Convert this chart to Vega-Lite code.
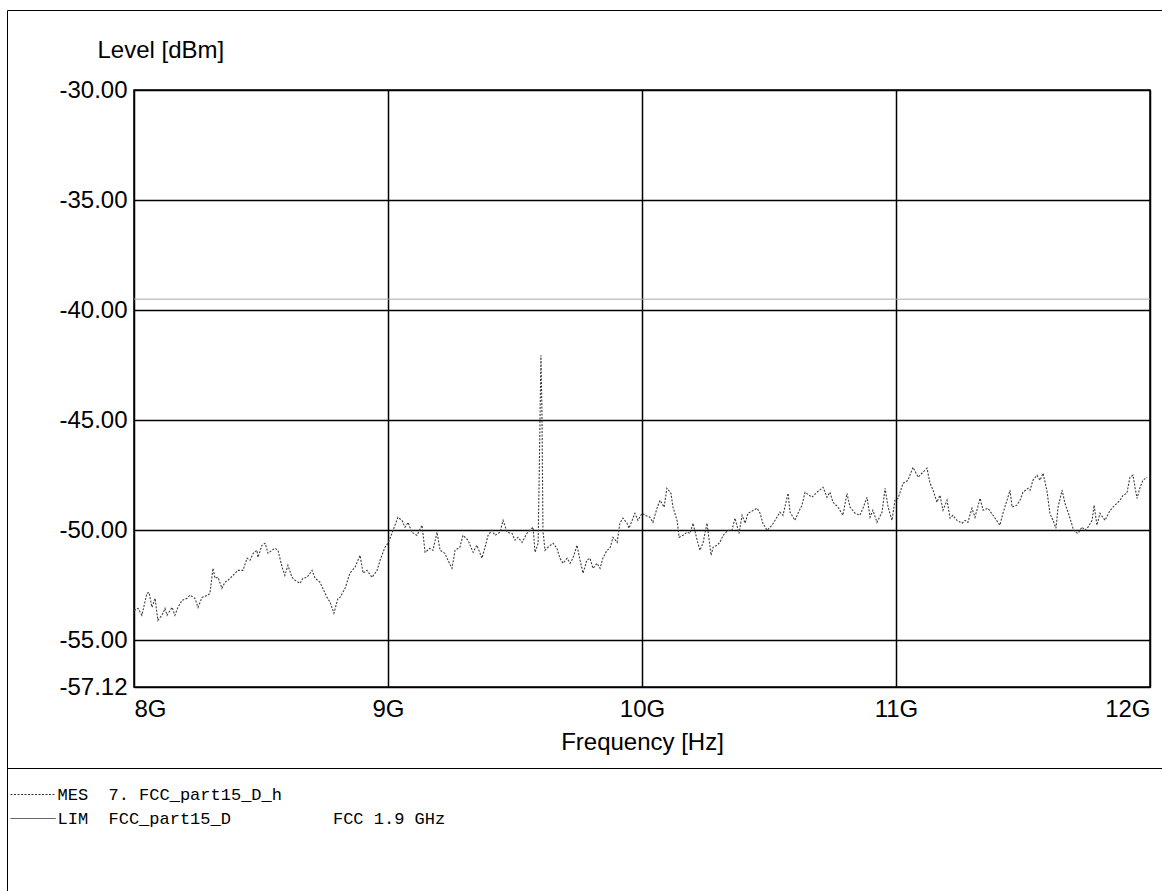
{
  "$schema": "https://vega.github.io/schema/vega-lite/v6.json",
  "width": 1016,
  "height": 597,
  "autosize": {"type": "none"},
  "padding": {"left": 134, "top": 90, "right": 12, "bottom": 204},
  "background": "white",
  "config": {
    "view": {"stroke": "black", "strokeWidth": 1.5},
    "font": "Liberation Sans"
  },
  "data": {
    "values": [
      {"f": 8.000, "L": -53.64, "s": "MES"},
      {"f": 8.016, "L": -53.55, "s": "MES"},
      {"f": 8.031, "L": -53.86, "s": "MES"},
      {"f": 8.051, "L": -52.86, "s": "MES"},
      {"f": 8.059, "L": -52.82, "s": "MES"},
      {"f": 8.071, "L": -53.50, "s": "MES"},
      {"f": 8.083, "L": -53.09, "s": "MES"},
      {"f": 8.094, "L": -54.09, "s": "MES"},
      {"f": 8.110, "L": -53.86, "s": "MES"},
      {"f": 8.122, "L": -53.55, "s": "MES"},
      {"f": 8.130, "L": -53.86, "s": "MES"},
      {"f": 8.150, "L": -53.50, "s": "MES"},
      {"f": 8.161, "L": -53.86, "s": "MES"},
      {"f": 8.173, "L": -53.50, "s": "MES"},
      {"f": 8.189, "L": -53.18, "s": "MES"},
      {"f": 8.209, "L": -53.09, "s": "MES"},
      {"f": 8.220, "L": -52.95, "s": "MES"},
      {"f": 8.240, "L": -53.09, "s": "MES"},
      {"f": 8.252, "L": -53.50, "s": "MES"},
      {"f": 8.268, "L": -53.05, "s": "MES"},
      {"f": 8.291, "L": -52.95, "s": "MES"},
      {"f": 8.299, "L": -52.86, "s": "MES"},
      {"f": 8.311, "L": -51.73, "s": "MES"},
      {"f": 8.319, "L": -52.18, "s": "MES"},
      {"f": 8.331, "L": -52.14, "s": "MES"},
      {"f": 8.346, "L": -52.64, "s": "MES"},
      {"f": 8.358, "L": -52.36, "s": "MES"},
      {"f": 8.370, "L": -52.27, "s": "MES"},
      {"f": 8.390, "L": -52.05, "s": "MES"},
      {"f": 8.409, "L": -51.82, "s": "MES"},
      {"f": 8.429, "L": -51.82, "s": "MES"},
      {"f": 8.445, "L": -51.27, "s": "MES"},
      {"f": 8.457, "L": -51.36, "s": "MES"},
      {"f": 8.469, "L": -51.05, "s": "MES"},
      {"f": 8.484, "L": -50.91, "s": "MES"},
      {"f": 8.488, "L": -51.23, "s": "MES"},
      {"f": 8.504, "L": -50.68, "s": "MES"},
      {"f": 8.516, "L": -50.59, "s": "MES"},
      {"f": 8.528, "L": -51.05, "s": "MES"},
      {"f": 8.543, "L": -50.91, "s": "MES"},
      {"f": 8.555, "L": -50.82, "s": "MES"},
      {"f": 8.567, "L": -50.91, "s": "MES"},
      {"f": 8.583, "L": -51.68, "s": "MES"},
      {"f": 8.594, "L": -52.05, "s": "MES"},
      {"f": 8.606, "L": -51.59, "s": "MES"},
      {"f": 8.622, "L": -52.14, "s": "MES"},
      {"f": 8.634, "L": -52.27, "s": "MES"},
      {"f": 8.654, "L": -52.41, "s": "MES"},
      {"f": 8.665, "L": -52.18, "s": "MES"},
      {"f": 8.681, "L": -52.14, "s": "MES"},
      {"f": 8.701, "L": -51.82, "s": "MES"},
      {"f": 8.713, "L": -52.18, "s": "MES"},
      {"f": 8.732, "L": -52.36, "s": "MES"},
      {"f": 8.760, "L": -53.05, "s": "MES"},
      {"f": 8.772, "L": -53.27, "s": "MES"},
      {"f": 8.787, "L": -53.77, "s": "MES"},
      {"f": 8.803, "L": -53.09, "s": "MES"},
      {"f": 8.811, "L": -53.05, "s": "MES"},
      {"f": 8.831, "L": -52.64, "s": "MES"},
      {"f": 8.850, "L": -51.95, "s": "MES"},
      {"f": 8.870, "L": -51.68, "s": "MES"},
      {"f": 8.890, "L": -51.14, "s": "MES"},
      {"f": 8.902, "L": -51.95, "s": "MES"},
      {"f": 8.917, "L": -51.82, "s": "MES"},
      {"f": 8.937, "L": -52.14, "s": "MES"},
      {"f": 8.957, "L": -51.82, "s": "MES"},
      {"f": 8.969, "L": -51.36, "s": "MES"},
      {"f": 8.988, "L": -50.77, "s": "MES"},
      {"f": 9.000, "L": -50.59, "s": "MES"},
      {"f": 9.020, "L": -50.00, "s": "MES"},
      {"f": 9.039, "L": -49.41, "s": "MES"},
      {"f": 9.055, "L": -49.55, "s": "MES"},
      {"f": 9.067, "L": -49.86, "s": "MES"},
      {"f": 9.079, "L": -49.64, "s": "MES"},
      {"f": 9.094, "L": -50.09, "s": "MES"},
      {"f": 9.114, "L": -50.23, "s": "MES"},
      {"f": 9.134, "L": -49.77, "s": "MES"},
      {"f": 9.146, "L": -51.00, "s": "MES"},
      {"f": 9.165, "L": -50.82, "s": "MES"},
      {"f": 9.177, "L": -50.91, "s": "MES"},
      {"f": 9.193, "L": -50.09, "s": "MES"},
      {"f": 9.205, "L": -50.91, "s": "MES"},
      {"f": 9.224, "L": -51.05, "s": "MES"},
      {"f": 9.236, "L": -51.36, "s": "MES"},
      {"f": 9.252, "L": -51.73, "s": "MES"},
      {"f": 9.264, "L": -50.91, "s": "MES"},
      {"f": 9.283, "L": -50.77, "s": "MES"},
      {"f": 9.295, "L": -50.23, "s": "MES"},
      {"f": 9.315, "L": -50.45, "s": "MES"},
      {"f": 9.335, "L": -51.00, "s": "MES"},
      {"f": 9.350, "L": -50.68, "s": "MES"},
      {"f": 9.370, "L": -51.27, "s": "MES"},
      {"f": 9.382, "L": -50.77, "s": "MES"},
      {"f": 9.394, "L": -50.23, "s": "MES"},
      {"f": 9.409, "L": -50.00, "s": "MES"},
      {"f": 9.421, "L": -50.23, "s": "MES"},
      {"f": 9.441, "L": -50.09, "s": "MES"},
      {"f": 9.453, "L": -49.55, "s": "MES"},
      {"f": 9.469, "L": -50.09, "s": "MES"},
      {"f": 9.488, "L": -50.14, "s": "MES"},
      {"f": 9.500, "L": -50.45, "s": "MES"},
      {"f": 9.512, "L": -50.32, "s": "MES"},
      {"f": 9.528, "L": -50.55, "s": "MES"},
      {"f": 9.547, "L": -50.14, "s": "MES"},
      {"f": 9.559, "L": -50.00, "s": "MES"},
      {"f": 9.571, "L": -49.86, "s": "MES"},
      {"f": 9.579, "L": -51.00, "s": "MES"},
      {"f": 9.591, "L": -50.59, "s": "MES"},
      {"f": 9.596, "L": -47.00, "s": "MES"},
      {"f": 9.602, "L": -42.05, "s": "MES"},
      {"f": 9.606, "L": -44.50, "s": "MES"},
      {"f": 9.610, "L": -50.00, "s": "MES"},
      {"f": 9.618, "L": -50.91, "s": "MES"},
      {"f": 9.630, "L": -50.77, "s": "MES"},
      {"f": 9.650, "L": -50.59, "s": "MES"},
      {"f": 9.665, "L": -50.82, "s": "MES"},
      {"f": 9.677, "L": -51.27, "s": "MES"},
      {"f": 9.689, "L": -51.50, "s": "MES"},
      {"f": 9.705, "L": -51.27, "s": "MES"},
      {"f": 9.717, "L": -51.50, "s": "MES"},
      {"f": 9.728, "L": -51.27, "s": "MES"},
      {"f": 9.744, "L": -50.68, "s": "MES"},
      {"f": 9.756, "L": -51.36, "s": "MES"},
      {"f": 9.768, "L": -51.95, "s": "MES"},
      {"f": 9.783, "L": -51.36, "s": "MES"},
      {"f": 9.795, "L": -51.27, "s": "MES"},
      {"f": 9.807, "L": -51.73, "s": "MES"},
      {"f": 9.823, "L": -51.50, "s": "MES"},
      {"f": 9.835, "L": -51.73, "s": "MES"},
      {"f": 9.846, "L": -51.27, "s": "MES"},
      {"f": 9.862, "L": -50.91, "s": "MES"},
      {"f": 9.874, "L": -50.82, "s": "MES"},
      {"f": 9.886, "L": -50.32, "s": "MES"},
      {"f": 9.902, "L": -50.55, "s": "MES"},
      {"f": 9.913, "L": -49.68, "s": "MES"},
      {"f": 9.925, "L": -49.45, "s": "MES"},
      {"f": 9.941, "L": -49.68, "s": "MES"},
      {"f": 9.949, "L": -49.91, "s": "MES"},
      {"f": 9.961, "L": -49.55, "s": "MES"},
      {"f": 9.972, "L": -49.23, "s": "MES"},
      {"f": 9.984, "L": -49.55, "s": "MES"},
      {"f": 10.000, "L": -49.23, "s": "MES"},
      {"f": 10.012, "L": -49.32, "s": "MES"},
      {"f": 10.031, "L": -49.41, "s": "MES"},
      {"f": 10.043, "L": -49.64, "s": "MES"},
      {"f": 10.059, "L": -49.00, "s": "MES"},
      {"f": 10.071, "L": -48.64, "s": "MES"},
      {"f": 10.087, "L": -48.95, "s": "MES"},
      {"f": 10.098, "L": -48.09, "s": "MES"},
      {"f": 10.114, "L": -48.32, "s": "MES"},
      {"f": 10.122, "L": -48.95, "s": "MES"},
      {"f": 10.138, "L": -49.55, "s": "MES"},
      {"f": 10.146, "L": -50.32, "s": "MES"},
      {"f": 10.161, "L": -50.23, "s": "MES"},
      {"f": 10.177, "L": -50.09, "s": "MES"},
      {"f": 10.189, "L": -50.14, "s": "MES"},
      {"f": 10.201, "L": -49.68, "s": "MES"},
      {"f": 10.217, "L": -50.45, "s": "MES"},
      {"f": 10.228, "L": -50.91, "s": "MES"},
      {"f": 10.240, "L": -50.59, "s": "MES"},
      {"f": 10.256, "L": -49.68, "s": "MES"},
      {"f": 10.272, "L": -51.14, "s": "MES"},
      {"f": 10.280, "L": -50.77, "s": "MES"},
      {"f": 10.295, "L": -50.68, "s": "MES"},
      {"f": 10.307, "L": -50.55, "s": "MES"},
      {"f": 10.319, "L": -50.23, "s": "MES"},
      {"f": 10.339, "L": -50.00, "s": "MES"},
      {"f": 10.354, "L": -50.00, "s": "MES"},
      {"f": 10.366, "L": -49.45, "s": "MES"},
      {"f": 10.382, "L": -50.14, "s": "MES"},
      {"f": 10.394, "L": -49.32, "s": "MES"},
      {"f": 10.406, "L": -49.68, "s": "MES"},
      {"f": 10.417, "L": -49.23, "s": "MES"},
      {"f": 10.425, "L": -49.18, "s": "MES"},
      {"f": 10.453, "L": -49.00, "s": "MES"},
      {"f": 10.465, "L": -49.23, "s": "MES"},
      {"f": 10.476, "L": -49.68, "s": "MES"},
      {"f": 10.492, "L": -50.00, "s": "MES"},
      {"f": 10.512, "L": -49.77, "s": "MES"},
      {"f": 10.531, "L": -49.41, "s": "MES"},
      {"f": 10.543, "L": -49.18, "s": "MES"},
      {"f": 10.555, "L": -49.32, "s": "MES"},
      {"f": 10.575, "L": -48.32, "s": "MES"},
      {"f": 10.583, "L": -49.18, "s": "MES"},
      {"f": 10.602, "L": -49.55, "s": "MES"},
      {"f": 10.614, "L": -49.23, "s": "MES"},
      {"f": 10.630, "L": -48.86, "s": "MES"},
      {"f": 10.642, "L": -48.27, "s": "MES"},
      {"f": 10.669, "L": -48.50, "s": "MES"},
      {"f": 10.689, "L": -48.27, "s": "MES"},
      {"f": 10.713, "L": -48.05, "s": "MES"},
      {"f": 10.728, "L": -48.50, "s": "MES"},
      {"f": 10.740, "L": -48.27, "s": "MES"},
      {"f": 10.752, "L": -48.73, "s": "MES"},
      {"f": 10.772, "L": -48.95, "s": "MES"},
      {"f": 10.791, "L": -49.32, "s": "MES"},
      {"f": 10.807, "L": -48.32, "s": "MES"},
      {"f": 10.819, "L": -48.95, "s": "MES"},
      {"f": 10.839, "L": -49.23, "s": "MES"},
      {"f": 10.858, "L": -49.32, "s": "MES"},
      {"f": 10.870, "L": -49.00, "s": "MES"},
      {"f": 10.886, "L": -48.50, "s": "MES"},
      {"f": 10.898, "L": -49.41, "s": "MES"},
      {"f": 10.909, "L": -49.09, "s": "MES"},
      {"f": 10.925, "L": -49.64, "s": "MES"},
      {"f": 10.945, "L": -49.18, "s": "MES"},
      {"f": 10.957, "L": -48.09, "s": "MES"},
      {"f": 10.969, "L": -48.95, "s": "MES"},
      {"f": 10.984, "L": -49.55, "s": "MES"},
      {"f": 10.996, "L": -48.64, "s": "MES"},
      {"f": 11.008, "L": -48.55, "s": "MES"},
      {"f": 11.028, "L": -47.86, "s": "MES"},
      {"f": 11.047, "L": -47.73, "s": "MES"},
      {"f": 11.067, "L": -47.14, "s": "MES"},
      {"f": 11.087, "L": -47.59, "s": "MES"},
      {"f": 11.102, "L": -47.41, "s": "MES"},
      {"f": 11.122, "L": -47.18, "s": "MES"},
      {"f": 11.134, "L": -47.86, "s": "MES"},
      {"f": 11.146, "L": -48.18, "s": "MES"},
      {"f": 11.161, "L": -48.73, "s": "MES"},
      {"f": 11.173, "L": -48.41, "s": "MES"},
      {"f": 11.185, "L": -49.09, "s": "MES"},
      {"f": 11.201, "L": -48.64, "s": "MES"},
      {"f": 11.213, "L": -49.45, "s": "MES"},
      {"f": 11.224, "L": -49.32, "s": "MES"},
      {"f": 11.240, "L": -49.55, "s": "MES"},
      {"f": 11.260, "L": -49.68, "s": "MES"},
      {"f": 11.272, "L": -49.55, "s": "MES"},
      {"f": 11.283, "L": -49.64, "s": "MES"},
      {"f": 11.299, "L": -49.00, "s": "MES"},
      {"f": 11.311, "L": -49.41, "s": "MES"},
      {"f": 11.331, "L": -48.55, "s": "MES"},
      {"f": 11.343, "L": -49.09, "s": "MES"},
      {"f": 11.362, "L": -49.00, "s": "MES"},
      {"f": 11.382, "L": -49.32, "s": "MES"},
      {"f": 11.409, "L": -49.77, "s": "MES"},
      {"f": 11.421, "L": -49.23, "s": "MES"},
      {"f": 11.437, "L": -48.64, "s": "MES"},
      {"f": 11.449, "L": -48.18, "s": "MES"},
      {"f": 11.457, "L": -48.95, "s": "MES"},
      {"f": 11.476, "L": -48.86, "s": "MES"},
      {"f": 11.488, "L": -48.64, "s": "MES"},
      {"f": 11.500, "L": -48.27, "s": "MES"},
      {"f": 11.520, "L": -48.09, "s": "MES"},
      {"f": 11.528, "L": -48.18, "s": "MES"},
      {"f": 11.539, "L": -47.73, "s": "MES"},
      {"f": 11.555, "L": -47.50, "s": "MES"},
      {"f": 11.567, "L": -47.73, "s": "MES"},
      {"f": 11.579, "L": -47.41, "s": "MES"},
      {"f": 11.594, "L": -48.18, "s": "MES"},
      {"f": 11.606, "L": -49.23, "s": "MES"},
      {"f": 11.618, "L": -49.55, "s": "MES"},
      {"f": 11.630, "L": -49.91, "s": "MES"},
      {"f": 11.638, "L": -48.95, "s": "MES"},
      {"f": 11.654, "L": -48.18, "s": "MES"},
      {"f": 11.665, "L": -48.77, "s": "MES"},
      {"f": 11.685, "L": -49.45, "s": "MES"},
      {"f": 11.697, "L": -49.91, "s": "MES"},
      {"f": 11.705, "L": -50.09, "s": "MES"},
      {"f": 11.717, "L": -50.14, "s": "MES"},
      {"f": 11.732, "L": -49.86, "s": "MES"},
      {"f": 11.744, "L": -50.00, "s": "MES"},
      {"f": 11.756, "L": -49.86, "s": "MES"},
      {"f": 11.772, "L": -49.55, "s": "MES"},
      {"f": 11.780, "L": -48.86, "s": "MES"},
      {"f": 11.791, "L": -49.77, "s": "MES"},
      {"f": 11.803, "L": -49.23, "s": "MES"},
      {"f": 11.823, "L": -49.55, "s": "MES"},
      {"f": 11.843, "L": -49.09, "s": "MES"},
      {"f": 11.862, "L": -48.86, "s": "MES"},
      {"f": 11.882, "L": -48.64, "s": "MES"},
      {"f": 11.894, "L": -48.41, "s": "MES"},
      {"f": 11.909, "L": -48.32, "s": "MES"},
      {"f": 11.921, "L": -47.59, "s": "MES"},
      {"f": 11.933, "L": -47.50, "s": "MES"},
      {"f": 11.941, "L": -48.05, "s": "MES"},
      {"f": 11.949, "L": -48.55, "s": "MES"},
      {"f": 11.961, "L": -48.05, "s": "MES"},
      {"f": 11.972, "L": -47.73, "s": "MES"},
      {"f": 11.988, "L": -47.59, "s": "MES"},
      {"f": 8.0, "L": -39.5, "s": "LIM"},
      {"f": 12.0, "L": -39.5, "s": "LIM"}
    ]
  },
  "encoding": {
    "x": {
      "field": "f",
      "type": "quantitative",
      "scale": {"domain": [8, 12], "nice": false, "zero": false},
      "axis": {
        "title": "Frequency [Hz]",
        "values": [8, 9, 10, 11, 12],
        "labelExpr": "datum.value + 'G'",
        "labelFontSize": 24,
        "labelColor": "black",
        "labelPadding": 10,
        "labelFlush": true,
        "ticks": false,
        "domain": false,
        "grid": true,
        "gridColor": "black",
        "gridWidth": 1.5,
        "gridOpacity": 1,
        "titleFontSize": 24,
        "titleFontWeight": "normal",
        "titleColor": "black",
        "titlePadding": 9
      }
    },
    "y": {
      "field": "L",
      "type": "quantitative",
      "scale": {"domain": [-57.12, -30], "nice": false, "zero": false},
      "axis": {
        "title": "Level [dBm]",
        "values": [-30, -35, -40, -45, -50, -55, -57.12],
        "format": ".2f",
        "labelExpr": "replace(datum.label, '−', '-')",
        "labelFontSize": 24,
        "labelColor": "black",
        "labelPadding": 7,
        "labelFlush": false,
        "ticks": false,
        "domain": false,
        "grid": true,
        "gridColor": "black",
        "gridWidth": 1.5,
        "gridOpacity": 1,
        "titleAngle": 0,
        "titleAlign": "left",
        "titleBaseline": "alphabetic",
        "titleX": -37,
        "titleY": -33,
        "titleFontSize": 24,
        "titleFontWeight": "normal",
        "titleColor": "black"
      }
    },
    "strokeDash": {
      "field": "s",
      "type": "nominal",
      "scale": {"domain": ["MES", "LIM"], "range": [[2, 1.5], [1, 0]]},
      "legend": {
        "title": " ",
        "titleOrient": "bottom",
        "titleFontSize": 80,
        "titleColor": "white",
        "titlePadding": 0,
        "orient": "none",
        "legendX": -127,
        "legendY": 678,
        "padding": 10.5,
        "strokeColor": "black",
        "symbolType": "M-1.4516,0H1.4516",
        "symbolSize": 961,
        "symbolOffset": -0.5,
        "symbolStrokeWidth": 1,
        "labelFont": "Liberation Mono",
        "labelFontSize": 17,
        "labelColor": "black",
        "labelOffset": 8.5,
        "labelLimit": 3000,
        "rowPadding": 0,
        "labelExpr": "datum.value === 'MES' ? 'MES\u00a0\u00a07.\u00a0FCC_part15_D_h' : 'LIM\u00a0\u00a0FCC_part15_D\u00a0\u00a0\u00a0\u00a0\u00a0\u00a0\u00a0\u00a0\u00a0\u00a0FCC\u00a01.9\u00a0GHz\u00a0\u00a0\u00a0\u00a0\u00a0\u00a0\u00a0\u00a0\u00a0\u00a0\u00a0\u00a0\u00a0\u00a0\u00a0\u00a0\u00a0\u00a0\u00a0\u00a0\u00a0\u00a0\u00a0\u00a0\u00a0\u00a0\u00a0\u00a0\u00a0\u00a0\u00a0\u00a0\u00a0\u00a0\u00a0\u00a0\u00a0\u00a0\u00a0\u00a0\u00a0\u00a0\u00a0\u00a0\u00a0\u00a0\u00a0\u00a0\u00a0\u00a0\u00a0\u00a0\u00a0\u00a0\u00a0\u00a0\u00a0\u00a0\u00a0\u00a0\u00a0\u00a0\u00a0\u00a0\u00a0\u00a0\u00a0\u00a0\u00a0\u00a0\u00a0\u200b'",
        "encode": {
          "symbols": {"update": {"stroke": {"value": "#333"}, "strokeWidth": {"value": 1}, "fill": {"value": "transparent"}}}
        }
      }
    }
  },
  "layer": [
    {
      "transform": [{"filter": "datum.s === 'MES'"}],
      "mark": {"type": "line", "strokeWidth": 1.1, "color": "#3c3c3c", "clip": true}
    },
    {
      "transform": [{"filter": "datum.s === 'LIM'"}],
      "mark": {"type": "line", "strokeWidth": 1, "clip": true},
      "encoding": {
        "color": {
          "field": "L",
          "type": "quantitative",
          "scale": {"range": ["#a8a8a8", "#a8a8a8"]},
          "legend": {
            "type": "gradient",
            "title": null,
            "orient": "none",
            "direction": "vertical",
            "legendX": -127,
            "legendY": -80,
            "padding": 0,
            "strokeColor": "black",
            "gradientLength": 758,
            "gradientThickness": 1180,
            "gradientOpacity": 0,
            "gradientStrokeWidth": 0,
            "labels": false
          }
        }
      }
    }
  ]
}
